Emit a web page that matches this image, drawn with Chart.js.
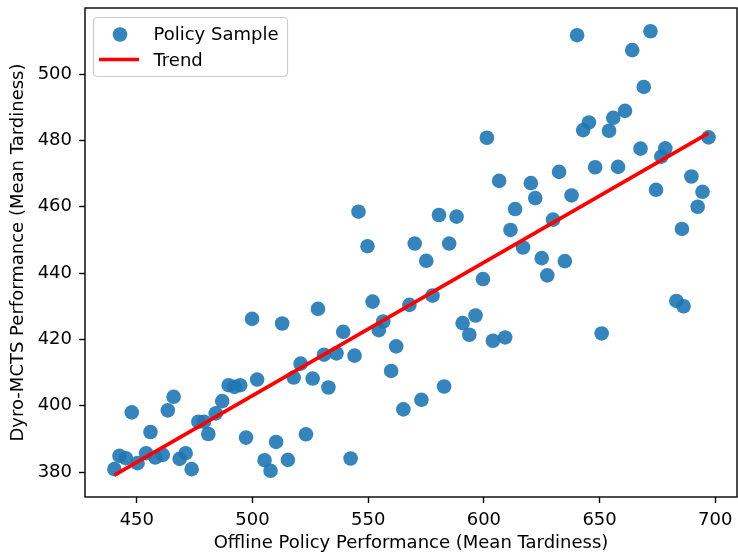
<!DOCTYPE html>
<html>
<head>
<meta charset="utf-8">
<script src="https://cdn.jsdelivr.net/npm/chart.js@4.4.0/dist/chart.umd.min.js"></script>
<style>
  body { margin: 0; background: #fff; }
  #wrap { width: 738px; height: 558px; }
</style>
</head>
<body>
<div id="wrap"><canvas id="chart"></canvas></div>
<script>
// offline policy performance (x) vs Dyro-MCTS performance (y)
var offlinePerf = [
    440.3, 442.5, 445.3, 447.8, 450.3, 454.0, 455.9, 458.0, 461.2, 463.4,
    465.9, 468.5, 471.1, 473.7, 476.6, 479.0, 480.9, 484.1, 486.9, 489.7,
    492.2, 494.7, 497.2, 499.8, 502.0, 505.2, 507.8, 510.2, 512.8, 515.3,
    517.8, 520.8, 523.1, 526.0, 528.3, 530.9, 532.8, 536.3, 539.2, 542.4,
    544.1, 545.8, 549.7, 551.9, 554.6, 556.5, 559.9, 562.1, 565.2, 567.8,
    570.1, 573.0, 575.1, 577.8, 580.6, 582.8, 585.0, 588.2, 590.8, 593.7,
    596.4, 599.6, 601.3, 603.9, 606.6, 609.2, 611.5, 613.5, 616.9, 620.3,
    622.2, 625.0, 627.4, 629.9, 632.5, 635.0, 637.9, 640.3, 642.9, 645.4,
    648.1, 650.9, 654.1, 655.9, 658.0, 661.0, 664.1, 667.7, 669.1, 672.0,
    674.4, 676.7, 678.4, 683.2, 685.6, 686.3, 689.7, 692.4, 694.5, 697.1
];
var dyroPerf = [
    380.9, 384.9, 384.2, 398.0, 382.7, 385.7, 392.1, 384.4, 385.2, 398.6,
    402.7, 384.0, 385.7, 380.9, 395.2, 395.2, 391.5, 397.7, 401.4, 406.2,
    405.7, 406.2, 390.4, 426.2, 407.9, 383.6, 380.4, 389.1, 424.8, 383.7,
    408.5, 412.7, 391.4, 408.2, 429.2, 415.4, 405.5, 415.8, 422.3, 384.1,
    415.1, 458.5, 448.1, 431.4, 422.8, 425.4, 410.5, 417.9, 398.9, 430.4,
    448.9, 401.8, 443.7, 433.2, 457.5, 405.8, 448.9, 457.0, 424.9, 421.4,
    427.2, 438.2, 480.8, 419.6, 467.8, 420.6, 453.0, 459.3, 447.7, 467.1,
    462.6, 444.5, 439.3, 456.1, 470.5, 443.6, 463.4, 511.7, 483.1, 485.4,
    471.9, 421.8, 482.9, 486.8, 472.0, 488.9, 507.2, 477.5, 496.1, 512.9,
    465.1, 475.1, 477.6, 431.6, 453.3, 430.0, 469.1, 460.0, 464.5, 480.9
];
var trendX = [440.3, 697.1];
var trendY = [379.1, 482.2];
var xTicks = [450, 500, 550, 600, 650, 700];
var yTicks = [380, 400, 420, 440, 460, 480, 500];

var samplePoints = offlinePerf.map(function (x, i) { return { x: x, y: dyroPerf[i] }; });
var trendPoints = trendX.map(function (x, i) { return { x: x, y: trendY[i] }; });

Chart.defaults.font.family = '"DejaVu Sans", sans-serif';
Chart.defaults.font.size = 18;
Chart.defaults.color = '#000';

// box around the axes + matplotlib style legend in the top left corner
var framePlugin = {
    id: 'frame',
    afterDraw: function (chart) {
        var ctx = chart.ctx;
        var a = chart.chartArea;
        ctx.save();
        ctx.strokeStyle = '#000';
        ctx.lineWidth = 1.4;
        ctx.strokeRect(a.left, a.top, a.right - a.left, a.bottom - a.top);

        var bx = a.left + 8.5, by = a.top + 9.5, bw = 194, bh = 59;
        ctx.beginPath();
        ctx.roundRect(bx, by, bw, bh, 4);
        ctx.fillStyle = 'rgba(255,255,255,0.8)';
        ctx.fill();
        ctx.strokeStyle = '#cccccc';
        ctx.lineWidth = 1.2;
        ctx.stroke();

        var sample = chart.data.datasets[1];
        var trend = chart.data.datasets[0];

        ctx.beginPath();
        ctx.arc(bx + 26.5, by + 17, 7.3, 0, Math.PI * 2);
        ctx.fillStyle = sample.backgroundColor;
        ctx.fill();

        ctx.beginPath();
        ctx.moveTo(bx + 5.5, by + 42);
        ctx.lineTo(bx + 45.5, by + 42);
        ctx.strokeStyle = trend.borderColor;
        ctx.lineWidth = trend.borderWidth;
        ctx.stroke();

        ctx.fillStyle = '#000';
        ctx.font = '18px "DejaVu Sans", sans-serif';
        ctx.textAlign = 'left';
        ctx.textBaseline = 'alphabetic';
        ctx.fillText(sample.label, bx + 60, by + 22);
        ctx.fillText(trend.label, bx + 60, by + 48.5);
        ctx.restore();
    }
};

var axisGrid = {
    drawOnChartArea: false,
    drawTicks: true,
    tickLength: 6,
    tickWidth: 1.4,
    tickColor: '#000'
};

new Chart(document.getElementById('chart'), {
    type: 'scatter',
    data: {
        datasets: [
            {
                label: 'Trend',
                data: trendPoints,
                showLine: true,
                borderColor: '#ff0000',
                borderWidth: 3.6,
                pointRadius: 0,
                pointHoverRadius: 0,
                order: 0
            },
            {
                label: 'Policy Sample',
                data: samplePoints,
                backgroundColor: 'rgba(31,119,180,0.9)',
                borderWidth: 0,
                pointRadius: 7.3,
                pointHoverRadius: 7.3,
                order: 1
            }
        ]
    },
    options: {
        responsive: true,
        maintainAspectRatio: false,
        animation: false,
        layout: { autoPadding: false, padding: { top: 8, right: 1, left: 0, bottom: 0 } },
        plugins: {
            legend: { display: false },
            tooltip: { enabled: false }
        },
        scales: {
            x: {
                type: 'linear',
                min: 427.6,
                max: 709.4,
                afterBuildTicks: function (s) { s.ticks = xTicks.map(function (v) { return { value: v }; }); },
                afterFit: function (s) {
                    s.height = 61;
                    s.paddingLeft = 0;
                    s.paddingRight = 0;
                },
                grid: axisGrid,
                border: { display: false },
                ticks: { padding: 7, maxRotation: 0 },
                title: {
                    display: true,
                    text: 'Offline Policy Performance (Mean Tardiness)',
                    padding: { top: 0, bottom: 4 }
                }
            },
            y: {
                type: 'linear',
                min: 372.5,
                max: 519.9,
                afterBuildTicks: function (s) { s.ticks = yTicks.map(function (v) { return { value: v }; }); },
                afterFit: function (s) {
                    s.width = 85;
                    s.paddingTop = 0;
                    s.paddingBottom = 0;
                },
                grid: axisGrid,
                border: { display: false },
                ticks: { padding: 7 },
                title: {
                    display: true,
                    text: 'Dyro-MCTS Performance (Mean Tardiness)',
                    padding: { top: 8, bottom: 0 }
                }
            }
        }
    },
    plugins: [framePlugin]
});
</script>
</body>
</html>
